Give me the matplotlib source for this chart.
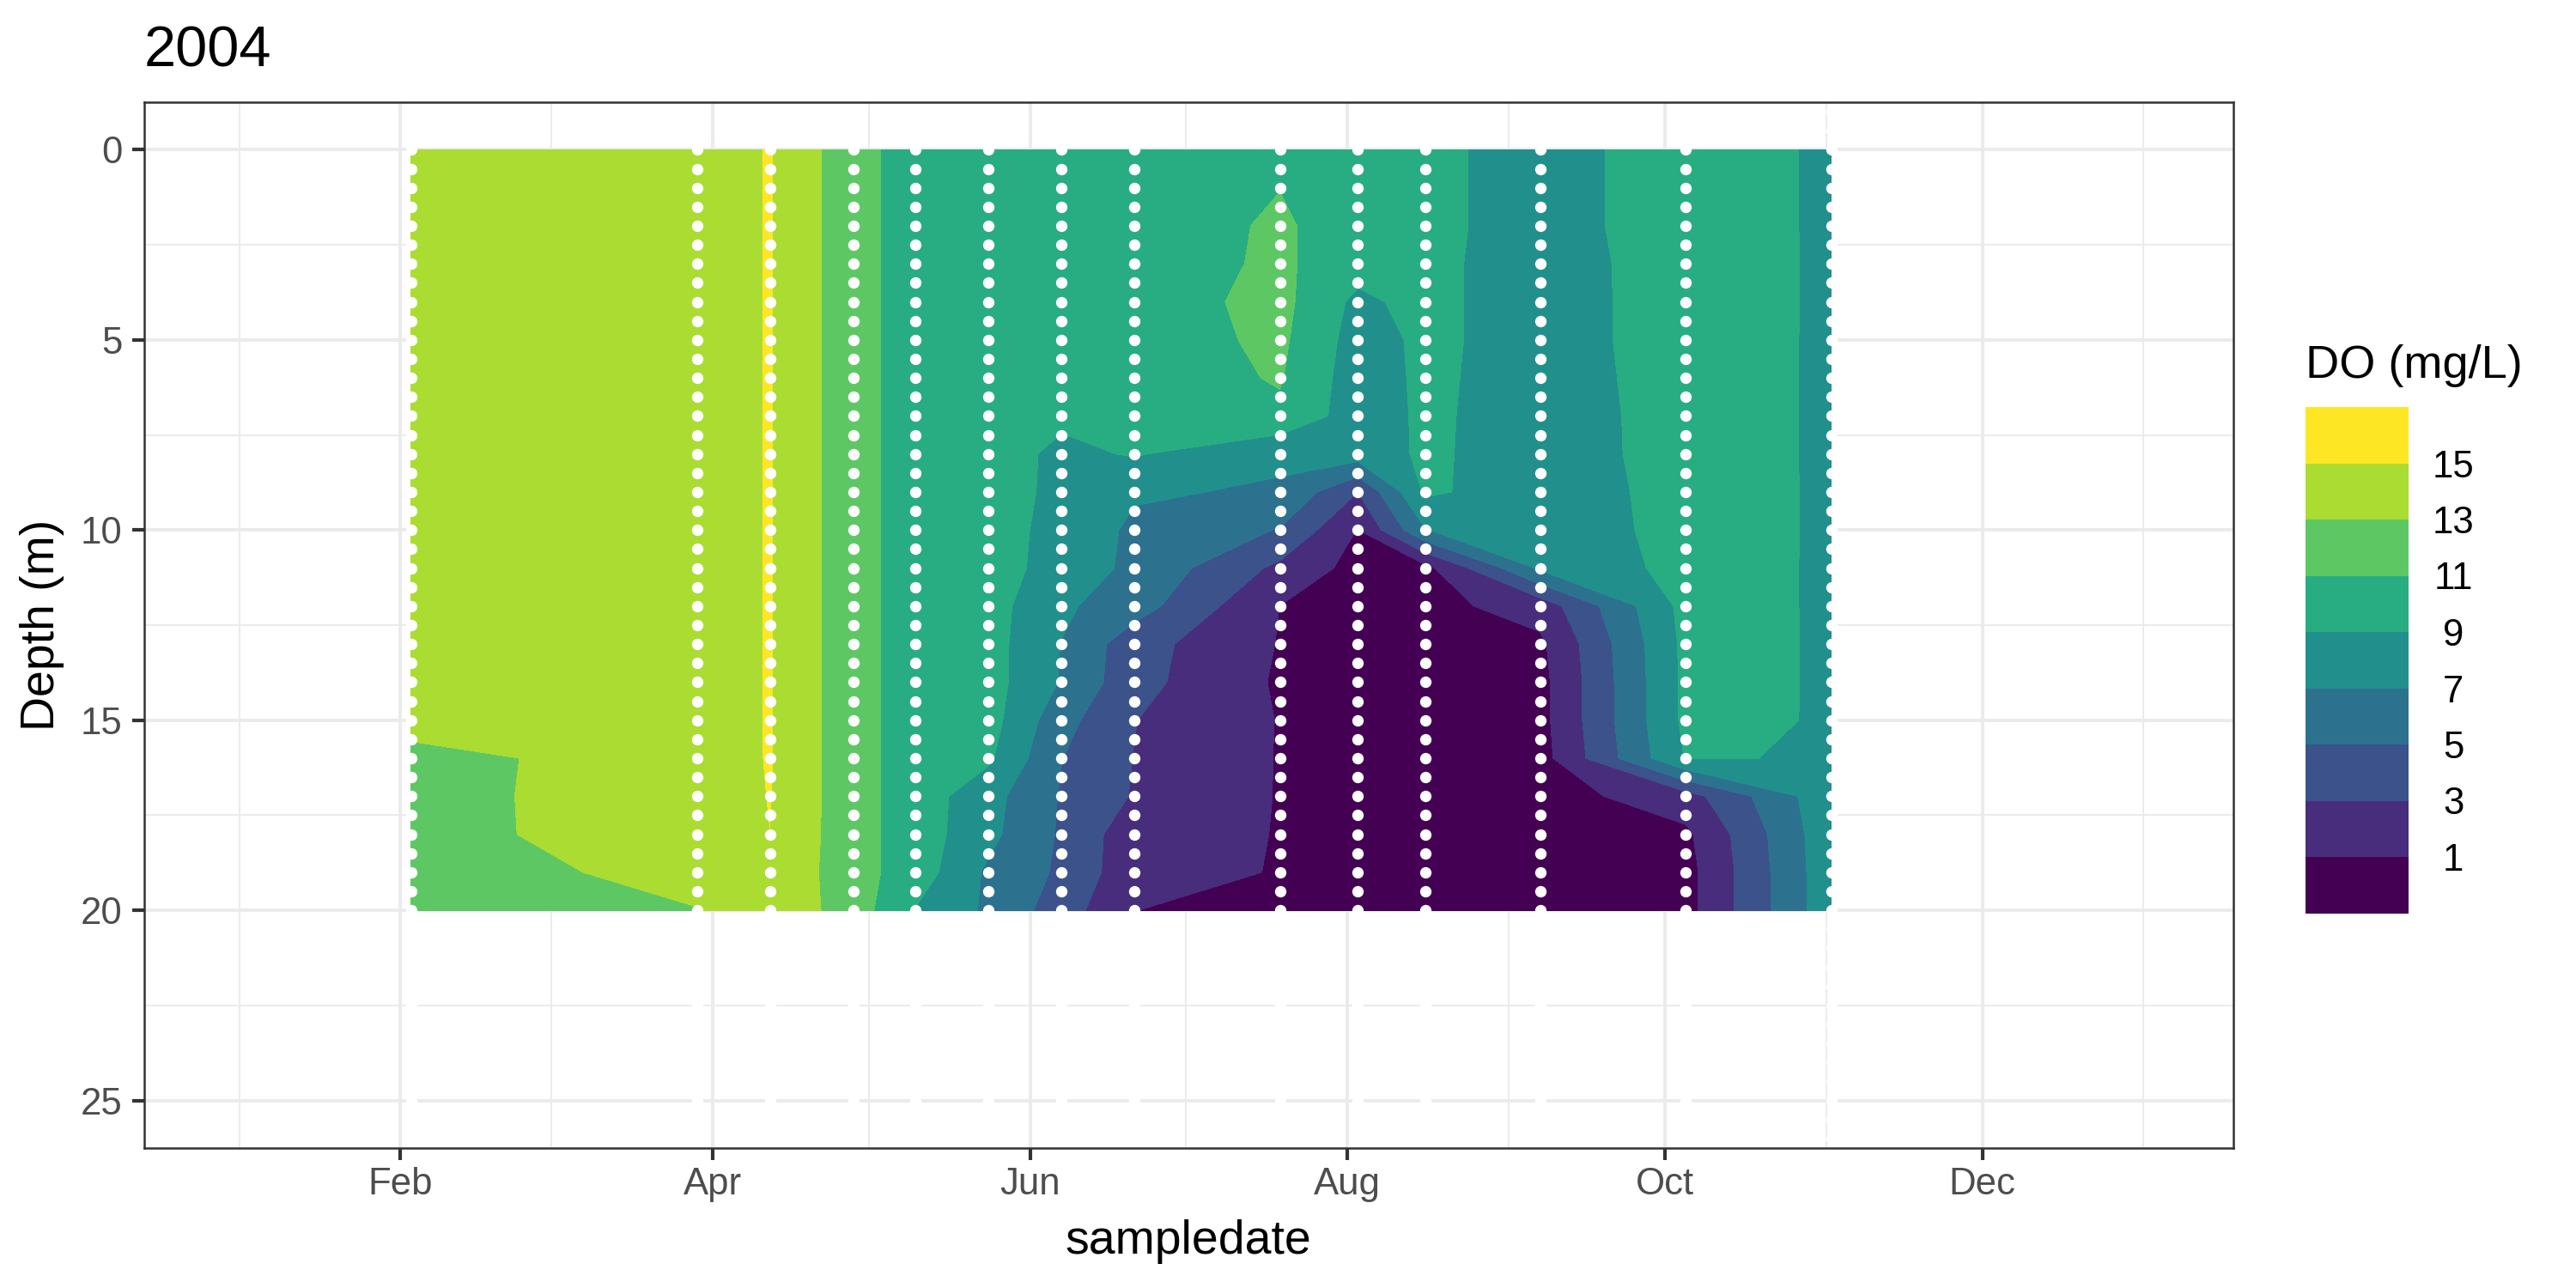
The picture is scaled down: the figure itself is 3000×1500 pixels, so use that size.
import matplotlib
matplotlib.use("Agg")
import matplotlib.pyplot as plt
import matplotlib.dates as mdates
from matplotlib.ticker import MultipleLocator
import numpy as np
from datetime import datetime

plt.rcParams['font.family'] = ['Liberation Sans', 'DejaVu Sans']

# sampling dates (one DO profile per date, shown as white dotted lines)
sample_dates = ["2004-02-03", "2004-03-29", "2004-04-12", "2004-04-28", "2004-05-10",
                "2004-05-24", "2004-06-07", "2004-06-21", "2004-07-19", "2004-08-03",
                "2004-08-16", "2004-09-07", "2004-10-05", "2004-11-02"]

# profile depths (m)
depth_m = [0, 1, 2, 3, 4, 5, 6, 7, 8, 9, 10, 11, 12, 13, 14, 15, 16, 17, 18, 19, 20]

# dissolved oxygen (mg/L), surface to 20 m
do_feb03 = [14.0, 14.0, 14.0, 14.0, 14.0, 14.0, 14.0, 14.0, 14.0, 14.0, 14.0,
            14.0, 14.0, 14.0, 14.0, 13.77, 12.39, 12.43, 12.41, 11.49, 11.5]
do_mar29 = [14.0, 14.0, 14.0, 14.0, 14.0, 14.0, 14.0, 14.0, 14.0, 14.0, 14.0,
            14.0, 14.0, 14.0, 14.0, 14.0, 14.0, 14.0, 14.0, 14.0, 12.9]
do_apr12 = [15.1, 15.1, 15.1, 15.1, 15.1, 15.1, 15.1, 15.1, 15.1, 15.1, 15.1,
            15.1, 15.1, 15.1, 15.1, 15.1, 15.1, 15.05, 14.99, 14.8, 14.5]
do_apr28 = [11.72, 11.72, 11.72, 11.72, 11.72, 11.72, 11.72, 11.72, 11.72, 11.72, 11.72,
            11.72, 11.72, 11.72, 11.72, 11.72, 11.72, 11.72, 11.72, 11.72, 12.05]
do_may10 = [10.08, 10.08, 10.08, 10.08, 10.08, 10.08, 10.08, 10.08, 10.08, 10.08, 10.08,
            10.08, 10.08, 10.08, 10.08, 10.08, 10.08, 10.08, 10.08, 10.08, 8.9]
do_may24 = [10.0, 10.0, 10.0, 10.0, 10.0, 10.0, 10.0, 10.0, 10.0, 10.0, 10.0,
            10.0, 9.8, 9.8, 9.8, 9.8, 9.32, 7.71, 7.51, 6.65, 6.66]
do_jun07 = [10.0, 10.0, 10.0, 10.0, 10.0, 10.0, 10.0, 9.38, 8.53, 8.47, 8.23,
            8.08, 7.33, 6.95, 6.86, 5.7, 5.05, 4.85, 4.75, 4.67, 3.98]
do_jun21 = [10.0, 10.0, 10.0, 10.0, 10.0, 10.0, 10.0, 10.0, 9.16, 7.19, 6.67,
            6.59, 5.91, 3.8, 3.65, 3.05, 2.95, 2.84, 1.73, 1.63, 1.02]
do_jul19 = [10.5, 10.97, 11.25, 11.32, 11.6, 11.4, 11.15, 10.65, 7.3, 6.8, 4.9,
            2.55, 0.98, 0.9, 0.75, 0.92, 0.9, 0.9, 0.94, 0.91, 0.3]
do_aug03 = [10.1, 10.1, 10.11, 9.87, 8.5, 8.15, 7.95, 7.97, 8.0, 3.0, 0.9,
            0.3, 0.2, 0.2, 0.2, 0.2, 0.2, 0.2, 0.2, 0.2, 0.2]
do_aug16 = [9.6, 9.6, 9.6, 9.6, 9.75, 9.4, 9.41, 9.34, 9.3, 9.31, 6.95,
            0.44, 0.4, 0.2, 0.2, 0.2, 0.2, 0.2, 0.2, 0.2, 0.2]
do_sep07 = [7.99, 7.99, 7.99, 7.8, 7.5, 8.2, 8.04, 8.07, 8.1, 7.96, 8.2,
            7.32, 1.82, 0.6, 0.36, 0.35, 0.2, 0.1, 0.1, 0.1, 0.1]
do_oct05 = [10.25, 10.25, 10.25, 10.23, 10.5, 9.8, 9.85, 9.73, 9.68, 9.64, 9.43,
            9.62, 9.66, 9.5, 9.46, 9.45, 9.1, 2.15, 0.6, 0.3, 0.3]
do_nov02 = [8.64, 8.64, 8.64, 8.65, 8.57, 8.77, 8.75, 8.79, 8.8, 8.82, 8.88,
            8.82, 8.81, 8.86, 8.87, 8.87, 8.9, 8.45, 8.43, 8.37, 8.37]

do_profiles = [do_feb03, do_mar29, do_apr12, do_apr28, do_may10, do_may24, do_jun07,
               do_jun21, do_jul19, do_aug03, do_aug16, do_sep07, do_oct05, do_nov02]

# contour bins and their (viridis) colours
do_breaks = [1, 3, 5, 7, 9, 11, 13, 15]
do_colors = ["#440154", "#472D7B", "#3B528B", "#2C728E", "#21908C",
             "#27AD81", "#5DC863", "#AADC32", "#FDE725"]

x = mdates.date2num([datetime.strptime(d, "%Y-%m-%d") for d in sample_dates])
X, Y = np.meshgrid(x, depth_m)
Z = np.array(do_profiles).T

W, H = 3000, 1500
fig = plt.figure(figsize=(10, 5), dpi=300)
ax = fig.add_axes([168 / W, 1 - 1337 / H, (2601 - 168) / W, (1337 - 119) / H])

# filled contours
ax.contourf(X, Y, Z, levels=do_breaks, colors=do_colors, extend='both', zorder=1)

# white dotted lines at the sampling dates
dot_depths = np.arange(-1.0, 27.0, 0.5)
for xi in x:
    ax.plot(np.full(len(dot_depths), xi), dot_depths, 'o', color='white',
            ms=3.2, mew=0, zorder=3)

# axis limits (year range with 5% expansion), depth reversed
x0 = mdates.date2num(datetime(2004, 1, 1))
x1 = mdates.date2num(datetime(2004, 12, 31))
pad = 0.05 * (x1 - x0)
ax.set_xlim(x0 - pad, x1 + pad)
ax.set_ylim(26.25, -1.25)

ax.xaxis.set_major_locator(mdates.MonthLocator(bymonth=[2, 4, 6, 8, 10, 12]))
ax.xaxis.set_major_formatter(mdates.DateFormatter('%b'))
ax.xaxis.set_minor_locator(mdates.MonthLocator(bymonth=[1, 3, 5, 7, 9, 11]))
ax.yaxis.set_major_locator(MultipleLocator(5))
ax.yaxis.set_minor_locator(MultipleLocator(2.5))

ax.set_axisbelow(True)
ax.grid(which='major', color='#EBEBEB', lw=0.95)
ax.grid(which='minor', color='#EBEBEB', lw=0.5)
ax.tick_params(which='minor', length=0)
ax.tick_params(which='major', length=3.4, width=1.0, color='#333333',
               labelsize=10.5, labelcolor='#4D4D4D')
ax.tick_params(axis='x', pad=1.8)
ax.tick_params(axis='y', pad=2.8)
for s in ax.spines.values():
    s.set_color('#333333')
    s.set_linewidth(0.6)

fig.text(168 / W, 1 - 77 / H, "2004", fontsize=16, ha='left', va='baseline')
fig.text(49 / W, 1 - 728 / H, "Depth (m)", fontsize=13.3, rotation=90,
         ha='center', va='center')
fig.text(1384 / W, 1 - 1460 / H, "sampledate", fontsize=13.3,
         ha='center', va='baseline')

# legend (binned colour keys)
lax = fig.add_axes([2685 / W, 1 - 1063.5 / H, 120 / W, 589.5 / H])
lax.bar(np.zeros(len(do_colors)), np.ones(len(do_colors)),
        bottom=np.arange(len(do_colors)), width=1, align='edge', color=do_colors)
lax.set_xlim(0, 1)
lax.set_ylim(0, len(do_colors))
lax.set_xticks([])
lax.set_yticks(np.arange(1, len(do_colors)))
lax.set_yticklabels([str(b) for b in do_breaks])
lax.yaxis.tick_right()
lax.tick_params(axis='y', length=0, pad=12.5, labelsize=10.5)
for lbl in lax.get_yticklabels():
    lbl.set_horizontalalignment('center')
for s in lax.spines.values():
    s.set_visible(False)
fig.text(2685 / W, 1 - 440 / H, "DO (mg/L)", fontsize=13, ha='left', va='baseline')

fig.savefig("out.png", dpi=300)
